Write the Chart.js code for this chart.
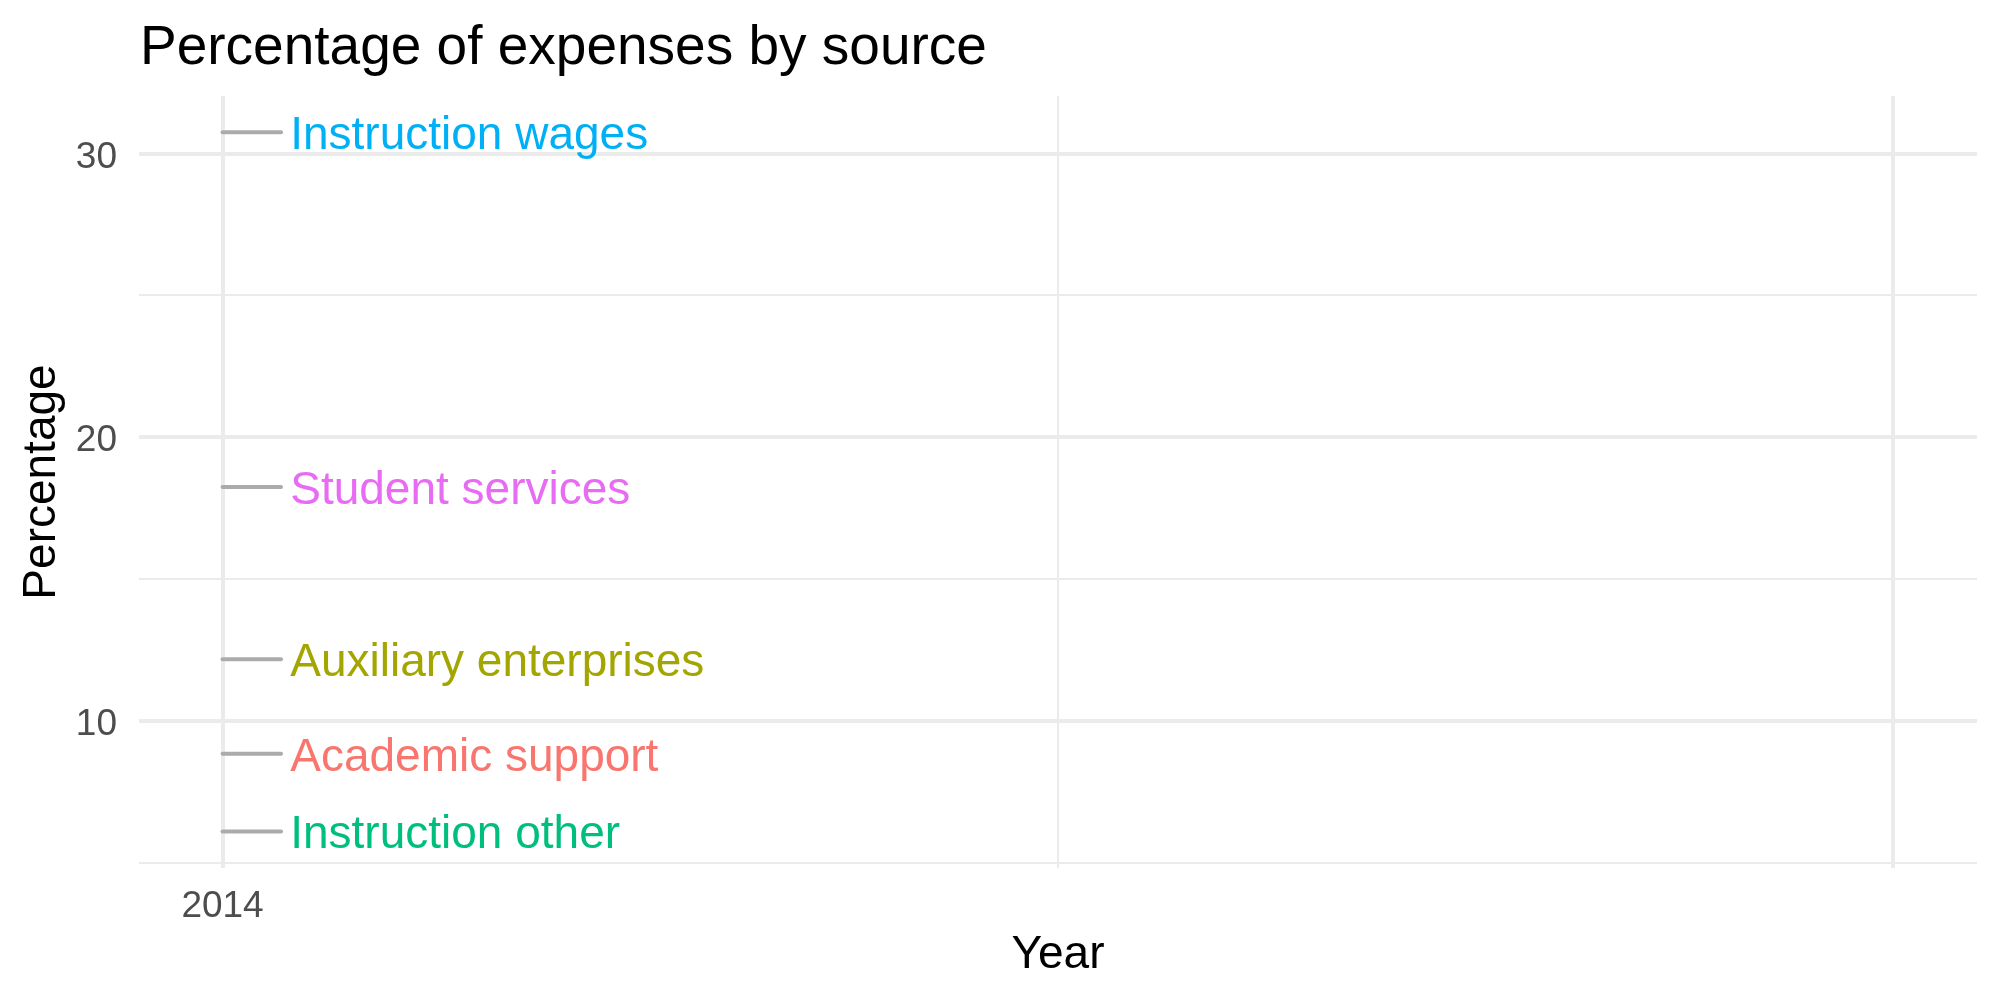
<!DOCTYPE html>
<html lang="en">
<head>
    <meta charset="UTF-8">
    <title>Percentage of expenses by source</title>
    <script src="https://cdn.jsdelivr.net/npm/chart.js"></script>
    <style>
        html, body { margin: 0; padding: 0; background: white; }
        #box { width: 2000px; height: 1000px; }
    </style>
</head>
<body>
    <div id="box"><canvas id="expenseChart" width="2000" height="1000"></canvas></div>
    <script>
        // data
        var categories = ['Instruction wages', 'Student services', 'Auxiliary enterprises', 'Academic support', 'Instruction other'];
        var values = [30.75, 18.24, 12.17, 8.84, 6.10];
        var colors = ['#00B0F6', '#E76BF3', '#A3A500', '#F8766D', '#00BF7D'];
        var year = 2014;
        var xTicks = [2014, 2015, 2016];
        var xTickLabels = ['2014', '', ''];
        var yTicks = [5, 10, 15, 20, 25, 30];
        var yTickLabels = ['', '10', '', '20', '', '30'];

        var leader = 0.07;     // length of the grey label leader, in years
        var textGap = 0.081;   // where the label text starts, in years
        var grid = '#EBEBEB';

        var datasets = categories.map(function (name, i) {
            return {
                label: name,
                data: [{ x: year, y: values[i] }, { x: year + leader, y: values[i] }],
                borderColor: '#ABABAB',
                borderWidth: 4,
                borderCapStyle: 'round',
                pointRadius: 0,
                fill: false
            };
        });

        var labelPlugin = {
            id: 'lineLabels',
            afterDatasetsDraw: function (chart) {
                var c = chart.ctx, xs = chart.scales.x, ys = chart.scales.y;
                c.save();
                c.font = '46px "Liberation Sans", Arial, sans-serif';
                c.textAlign = 'left';
                c.textBaseline = 'alphabetic';
                categories.forEach(function (name, i) {
                    c.fillStyle = colors[i];
                    c.fillText(name, xs.getPixelForValue(year + textGap), ys.getPixelForValue(values[i]) + 17);
                });
                c.restore();
            },
            afterDraw: function (chart) {
                var c = chart.ctx;
                c.save();
                c.font = '55px "Liberation Sans", Arial, sans-serif';
                c.fillStyle = '#000000';
                c.textAlign = 'left';
                c.textBaseline = 'alphabetic';
                c.fillText('Percentage of expenses by source', 140, 64);
                c.restore();
            }
        };

        var ctx = document.getElementById('expenseChart').getContext('2d');
        var expenseChart = new Chart(ctx, {
            type: 'line',
            data: { datasets: datasets },
            plugins: [labelPlugin],
            options: {
                responsive: false,
                animation: false,
                layout: { padding: { top: 96, right: 23, bottom: 0, left: 0 } },
                plugins: {
                    legend: { display: false },
                    tooltip: { enabled: false }
                },
                scales: {
                    x: {
                        type: 'linear',
                        min: 2013.9,
                        max: 2016.1,
                        afterBuildTicks: function (s) { s.ticks = xTicks.map(function (v) { return { value: v }; }); },
                        afterFit: function (s) { s.height = 132; },
                        ticks: {
                            color: '#4D4D4D',
                            font: { family: '"Liberation Sans", Arial, sans-serif', size: 37 },
                            padding: 17,
                            maxRotation: 0,
                            autoSkip: false,
                            callback: function (v, i) { return xTickLabels[xTicks.indexOf(v)]; }
                        },
                        grid: {
                            color: grid,
                            drawTicks: false,
                            lineWidth: function (c) { return c.tick && c.tick.value === 2015 ? 2 : 4; }
                        },
                        border: { display: false },
                        title: {
                            display: true,
                            text: 'Year',
                            color: '#000000',
                            font: { family: '"Liberation Sans", Arial, sans-serif', size: 46 },
                            padding: { top: 0, bottom: 17 }
                        }
                    },
                    y: {
                        min: 4.81,
                        max: 32.03,
                        afterBuildTicks: function (s) { s.ticks = yTicks.map(function (v) { return { value: v }; }); },
                        afterFit: function (s) { s.width = 139; },
                        ticks: {
                            color: '#4D4D4D',
                            font: { family: '"Liberation Sans", Arial, sans-serif', size: 37 },
                            padding: 22,
                            labelOffset: 4,
                            autoSkip: false,
                            callback: function (v) { return yTickLabels[yTicks.indexOf(v)]; }
                        },
                        grid: {
                            color: grid,
                            drawTicks: false,
                            lineWidth: function (c) { return c.tick && c.tick.value % 10 === 0 ? 4 : 2; }
                        },
                        border: { display: false },
                        title: {
                            display: true,
                            text: 'Percentage',
                            color: '#000000',
                            font: { family: '"Liberation Sans", Arial, sans-serif', size: 46 },
                            padding: { top: 15, bottom: 0 }
                        }
                    }
                }
            }
        });
    </script>
</body>
</html>
